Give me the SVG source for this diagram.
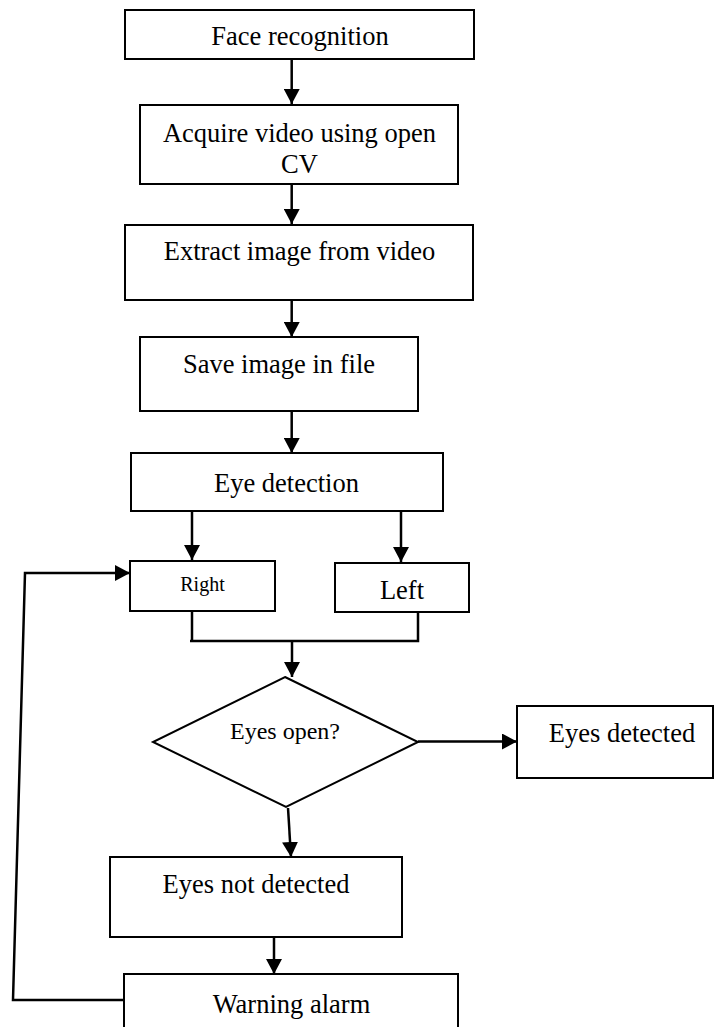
<svg xmlns="http://www.w3.org/2000/svg" width="715" height="1027" viewBox="0 0 715 1027">
<style>
.box{fill:#fff;stroke:#000;stroke-width:2}
.ln{fill:none;stroke:#000;stroke-width:2.5}
.t{font-family:"Liberation Serif","Times New Roman",serif;font-size:26.5px;fill:#000;text-anchor:middle}
</style>
<defs>
<marker id="ah" markerUnits="userSpaceOnUse" viewBox="0 0 15 16" refX="15" refY="8" markerWidth="15" markerHeight="16" orient="auto">
<path d="M0,0 L15,8 L0,16 z" fill="#000"/>
</marker>
</defs>
<rect width="715" height="1027" fill="#fff"/>
<g id="connectors">
<line class="ln" x1="291.7" y1="59" x2="291.7" y2="104" marker-end="url(#ah)"/>
<line class="ln" x1="291.7" y1="184" x2="291.7" y2="224" marker-end="url(#ah)"/>
<line class="ln" x1="291.7" y1="300" x2="291.7" y2="337" marker-end="url(#ah)"/>
<line class="ln" x1="291.7" y1="411" x2="291.7" y2="453" marker-end="url(#ah)"/>
<line class="ln" x1="192" y1="511" x2="192" y2="560" marker-end="url(#ah)"/>
<line class="ln" x1="401" y1="511" x2="401" y2="562" marker-end="url(#ah)"/>
<line class="ln" x1="192" y1="611" x2="192" y2="641"/>
<polyline class="ln" points="190,641 418,641 418,612"/>
<line class="ln" x1="292" y1="641" x2="292" y2="677" marker-end="url(#ah)"/>
<line class="ln" x1="418" y1="741.5" x2="517" y2="741.5" marker-end="url(#ah)"/>
<line class="ln" x1="288" y1="808" x2="291" y2="857" marker-end="url(#ah)"/>
<line class="ln" x1="274" y1="937" x2="274" y2="974" marker-end="url(#ah)"/>
<polyline class="ln" points="124,1000 13,1000 25,573 130,573" marker-end="url(#ah)"/>
</g>
<g id="face-recognition">
<rect class="box" x="125" y="10" width="349" height="49"/>
<text class="t" x="300" y="45">Face recognition</text>
</g>
<g id="acquire-video">
<rect class="box" x="140" y="105" width="318" height="79"/>
<text class="t" x="299.5" y="142">Acquire video using open</text>
<text class="t" x="299.5" y="173">CV</text>
</g>
<g id="extract-image">
<rect class="box" x="125" y="225" width="348" height="75"/>
<text class="t" x="299.5" y="260">Extract image from video</text>
</g>
<g id="save-image">
<rect class="box" x="140" y="337" width="278" height="74"/>
<text class="t" x="279" y="373">Save image in file</text>
</g>
<g id="eye-detection">
<rect class="box" x="131" y="453" width="312" height="58"/>
<text class="t" x="286.5" y="492">Eye detection</text>
</g>
<g id="right">
<rect class="box" x="130" y="561" width="145" height="50"/>
<text class="t" x="202.5" y="591" style="font-size:20px">Right</text>
</g>
<g id="left">
<rect class="box" x="335" y="563" width="134" height="49"/>
<text class="t" x="402" y="599">Left</text>
</g>
<g id="eyes-open">
<polygon class="box" points="285,677 418,742 286,807 153,742"/>
<text class="t" x="285" y="739" style="font-size:24px">Eyes open?</text>
</g>
<g id="eyes-detected">
<rect class="box" x="517" y="706" width="196" height="72"/>
<text class="t" x="622" y="742">Eyes detected</text>
</g>
<g id="eyes-not-detected">
<rect class="box" x="110" y="857" width="292" height="80"/>
<text class="t" x="256" y="893">Eyes not detected</text>
</g>
<g id="warning-alarm">
<rect class="box" x="124" y="974" width="334" height="70"/>
<text class="t" x="291.5" y="1013">Warning alarm</text>
</g>
</svg>
